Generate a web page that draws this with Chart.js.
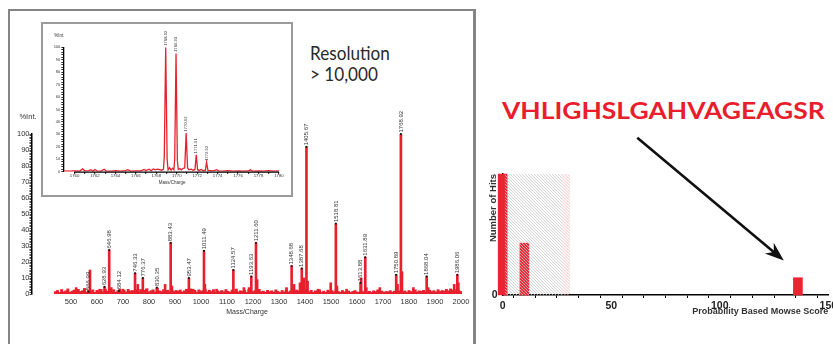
<!DOCTYPE html>
<html lang="en">
<head>
<meta charset="UTF-8">
<title>Peptide mass spectrum and Mowse score</title>
<script src="https://cdn.jsdelivr.net/npm/chart.js@4.4.1/dist/chart.umd.min.js"></script>
<style>
  html, body { margin:0; padding:0; background:#fff; overflow:hidden; width:833px; height:344px; }
  canvas { position:absolute; }
  .panel { position:absolute; left:8px; top:9px; width:463px; height:360px;
           border:2px solid #858585; border-right-width:3px; border-bottom:none; }
  .inset { position:absolute; left:41px; top:22px; width:248px; height:171px;
           border:2px solid #9a9a9a; background:#fff; }
  .inset canvas { left:0; top:0; }
  .note { position:absolute; font-family:Lato, "Open Sans", sans-serif; color:#2a2a2a;
          font-size:19.5px; line-height:20.7px; white-space:nowrap; transform-origin:left top; }
  .seq { position:absolute; left:502px; top:99px; font-family:Lato, sans-serif; font-weight:700;
         font-size:23px; line-height:23px; color:#ea1d2c; white-space:nowrap; transform-origin:left top; }
</style>
</head>
<body>

<div class="panel"></div>
<canvas id="spectrum" width="464" height="244" style="left:10px; top:100px;"></canvas>
<div class="inset"><canvas id="zoomed" width="248" height="171"></canvas></div>
<div class="note" id="res" style="left:310px; top:43px;">Resolution<br>&gt; 10,000</div>
<div class="seq" id="seq">VHLIGHSLGAHVAGEAGSR</div>
<canvas id="mowse" width="370" height="254" style="left:478px; top:90px;"></canvas>

<script>
// ---- full spectrum ----
const peakMass = [566.99, 628.93, 646.98, 684.12, 746.33, 776.37, 830.35, 883.43, 953.47, 1011.49, 1124.57,
                  1193.63, 1211.60, 1348.68, 1387.68, 1405.67, 1518.81, 1613.88, 1631.89, 1750.89, 1768.92,
                  1868.04, 1986.06];
const peakInt  = [1.5, 4.5, 27.5, 2, 13, 10, 4, 32, 10, 27, 15,
                  11, 32, 17.5, 16, 92, 44, 7, 23, 12, 100,
                  11, 12];
const minorMass = [520, 573, 610, 655, 700, 757, 790, 862, 888, 945, 970, 1015, 1060, 1165, 1185, 1216,
                   1329, 1358, 1381, 1395, 1410, 1450, 1499, 1523, 1560, 1616, 1636, 1688, 1756, 1773,
                   1817, 1874, 1974, 1990];
const minorInt  = [4, 15, 3, 4, 3, 6, 3, 6, 5, 3, 3, 6, 3, 4, 4, 9,
                   4, 6, 7, 10, 8, 3, 7, 5, 3, 10, 4, 4, 6, 14,
                   4, 4, 6, 7];
const noiseStart = 440, noiseStep = 8;
const noiseInt = [
  1.5,2.2,1.0,2.8,1.4,2.0,3.2,1.1,1.8,2.5,1.2,2.9,1.6,2.1,3.5,1.3,2.4,1.7,2.6,1.0,
  2.3,1.5,2.8,1.2,3.0,1.8,2.2,1.4,2.7,1.1,2.0,3.1,1.6,2.4,1.3,2.9,1.9,2.2,1.5,2.6,
  1.2,2.8,1.7,2.3,3.3,1.4,2.1,2.6,1.3,3.6,2.0,1.5,2.7,1.8,2.4,1.2,3.0,1.6,2.2,1.9,
  2.5,1.3,2.0,2.9,1.5,3.2,1.7,2.3,1.2,2.6,1.8,2.1,3.0,1.4,2.4,1.6,2.7,1.1,2.0,1.5,
  2.2,1.4,2.8,1.7,1.2,2.5,1.9,3.1,1.3,2.0,1.6,2.4,1.0,2.7,1.8,1.4,2.2,1.2,2.9,1.5,
  1.8,1.1,2.3,1.5,2.0,1.2,2.6,1.6,1.0,2.2,1.4,2.8,1.3,1.9,3.4,1.7,2.5,2.0,3.0,2.4,
  2.6,1.9,1.4,2.3,1.1,2.0,1.6,2.7,1.2,1.8,1.0,2.4,1.5,2.1,1.3,2.8,1.6,1.1,2.2,1.4,
  1.2,1.9,1.0,1.6,2.2,1.3,1.1,1.8,1.4,2.3,1.2,1.7,1.0,2.0,1.5,2.6,1.3,1.8,1.1,1.6,
  1.4,2.1,1.2,1.8,2.5,1.6,2.0,1.3,1.9,1.1,2.2,1.5,1.8,2.6,1.4,2.0,1.7,2.3,1.2,1.9,
  2.4,1.5,2.1,1.3,2.7,1.6,2.2,1.8,2.9,2.0,3.2,2.5,1.9,2.8,2.2,1.6];
const massTicks = [500, 600, 700, 800, 900, 1000, 1100, 1200, 1300, 1400, 1500, 1600, 1700, 1800, 1900, 2000];

// ---- zoom on 1768.92 ----
const insetMass = [1759.0,1759.5,1760.0,1760.5,1760.8,1761.0,1761.4,1761.6,1761.8,1762.0,1762.2,1762.6,1762.9,1763.1,
  1763.6,1764.0,1764.5,1765.0,1765.2,1765.5,1766.0,1766.5,1766.8,1767.0,1767.3,1767.5,1767.7,1767.9,1768.1,1768.3,
  1768.5,1768.7,1768.78,1768.92,1769.06,1769.15,1769.3,1769.45,1769.6,1769.72,1769.8,1769.93,1770.06,1770.15,1770.3,
  1770.45,1770.6,1770.78,1770.92,1771.06,1771.2,1771.4,1771.6,1771.78,1771.91,1772.04,1772.2,1772.4,1772.6,1772.8,
  1772.92,1773.05,1773.3,1773.6,1773.9,1774.1,1774.5,1775.0,1775.5,1776.0,1776.5,1777.0,1777.2,1777.4,1778.0,
  1778.5,1779.0,1779.5,1780.0];
const insetInt = [0.6,0.4,0.7,0.5,2.2,0.6,0.8,1.6,0.5,1.8,0.6,0.5,2.0,0.6,
  0.5,0.8,0.4,0.9,1.6,0.5,0.7,0.6,1.8,0.9,2.0,0.8,2.2,1.5,2.0,1.6,
  1.2,2.0,12,100,10,1.5,3.2,1.2,2.8,1.5,10,95,9,1.8,2.5,
  1.5,2.6,3,31,3,1.5,2.0,1.2,1.8,13.5,1.6,1.0,1.8,0.8,1.2,
  7.5,1.0,0.8,0.6,1.6,0.7,0.5,0.8,0.5,0.7,0.5,0.6,1.5,0.5,0.7,
  0.5,0.8,0.5,0.7];
const insetPeakMass  = [1768.92, 1769.93, 1770.92, 1771.91, 1772.92];
const insetPeakInt   = [100, 95, 31, 13.5, 7.5];
const insetPeakLabel = ['1768.92', '1769.93', '1770.92', '1771.91', '1772.92'];
const insetTicks = [1760, 1762, 1764, 1766, 1768, 1770, 1772, 1774, 1776, 1778, 1780];

// ---- Mowse score histogram ----
const mowseScore = [0, 10, 136];
const mowseHits  = [7, 3, 1];
const scoreTicks = [0, 50, 100, 150];
const randomZone = [1, 27.5];
const thresholdZone = [27.5, 31];
const arrowFrom = [62, 9.1];
const arrowTo   = [129.5, 2.0];

const RED = '#e8202e';
const SANS = '"Liberation Sans", Arial, sans-serif';

// rotated labels above the peak tips
function peakLabels(mass, value, text, size, mark) {
  return {
    id: 'peakLabels',
    afterDatasetsDraw(chart) {
      const {ctx, scales: {x, y}} = chart;
      ctx.save();
      ctx.font = size + 'px ' + SANS;
      mass.forEach((m, i) => {
        const px = x.getPixelForValue(m), py = y.getPixelForValue(value[i]);
        ctx.fillStyle = '#111';
        ctx.fillRect(px - mark / 2, py - mark / 2, mark, mark);
        ctx.save();
        ctx.translate(px, py - 1.5);
        ctx.rotate(-Math.PI / 2);
        ctx.textAlign = 'left';
        ctx.textBaseline = 'middle';
        ctx.fillStyle = '#333';
        ctx.fillText(text[i], 0, 0);
        ctx.restore();
      });
      ctx.restore();
    }
  };
}

// "%Int." above the y axis
function axisNote(text, dx, dy, size) {
  return {
    id: 'axisNote',
    afterDraw(chart) {
      const {ctx, chartArea} = chart;
      ctx.save();
      ctx.font = size + 'px ' + SANS;
      ctx.fillStyle = '#333';
      ctx.textAlign = 'center';
      ctx.textBaseline = 'middle';
      ctx.fillText(text, chartArea.left + dx, chartArea.top + dy);
      ctx.restore();
    }
  };
}

const bars = (data, w) => ({
  type: 'bar', data: data, backgroundColor: RED, borderWidth: 0,
  barThickness: w, grouped: false
});

new Chart(document.getElementById('spectrum'), {
  type: 'bar',
  data: {
    datasets: [
      bars(noiseInt.map((v, i) => ({x: noiseStart + i * noiseStep, y: v})), 2.3),
      bars(minorMass.map((m, i) => ({x: m, y: minorInt[i]})), 2),
      bars(peakMass.map((m, i) => ({x: m, y: peakInt[i]})), 2)
    ]
  },
  options: {
    responsive: false, animation: false, devicePixelRatio: 1,
    layout: {padding: {top: 34, right: 12, left: 0, bottom: 0}},
    plugins: {legend: {display: false}, tooltip: {enabled: false}},
    scales: {
      x: {
        type: 'linear', min: 350, max: 2004, offset: false,
        afterBuildTicks: s => { s.ticks = massTicks.map(v => ({value: v})); },
        afterFit: s => { s.height = 50; },
        ticks: {font: {size: 7.5, family: SANS}, color: '#333', padding: 3, maxRotation: 0,
                callback: v => String(v)},
        grid: {display: false, drawTicks: false}, border: {display: false},
        title: {display: true, text: 'Mass/Charge', color: '#333', font: {size: 7, family: SANS},
                padding: {top: 0, bottom: 28}}
      },
      y: {
        min: 0, max: 100,
        afterFit: s => { s.width = 22; },
        ticks: {stepSize: 1, autoSkip: false, padding: 0, color: '#333', font: {size: 7.5, family: SANS},
                callback: v => v % 10 === 0 ? String(v) : ''},
        grid: {drawOnChartArea: false, tickLength: 2.5, color: '#000', lineWidth: 0.7},
        border: {color: '#000', width: 1.5}
      }
    }
  },
  plugins: [peakLabels(peakMass, peakInt, peakMass.map(m => m.toFixed(2)), 6, 1.8), axisNote('%Int.', -4, -17, 7.5)]
});

const insetAxisLine = {
  id: 'insetAxisLine',
  afterDraw(chart) {
    const {ctx, scales: {x, y}} = chart;
    ctx.save();
    ctx.strokeStyle = '#000';
    ctx.lineWidth = 1.3;
    ctx.beginPath();
    ctx.moveTo(x.getPixelForValue(insetTicks[0]), y.getPixelForValue(0) + 0.5);
    ctx.lineTo(x.getPixelForValue(insetTicks[insetTicks.length - 1]), y.getPixelForValue(0) + 0.5);
    ctx.stroke();
    ctx.restore();
  }
};

// tick marks at every unit between the labelled ticks
function insetTickMarks(scale) {
  const marks = [];
  insetTicks.forEach((v, i) => {
    marks.push({value: v});
    if (i < insetTicks.length - 1) marks.push({value: v + 1});
  });
  scale.ticks = marks;
}

new Chart(document.getElementById('zoomed'), {
  type: 'line',
  data: {
    datasets: [{
      data: insetMass.map((m, i) => ({x: m, y: insetInt[i]})),
      borderColor: RED, borderWidth: 1.3, pointRadius: 0, tension: 0, fill: false
    }]
  },
  options: {
    responsive: false, animation: false, devicePixelRatio: 1,
    layout: {padding: {top: 23.3, right: 10, left: 0, bottom: 0}},
    plugins: {legend: {display: false}, tooltip: {enabled: false}},
    scales: {
      x: {
        type: 'linear', min: 1758.9, max: 1780.2, offset: false,
        afterBuildTicks: insetTickMarks,
        afterFit: s => { s.height = 23.3; },
        ticks: {autoSkip: false, maxRotation: 0, padding: 0, color: '#333',
                font: {size: 4.3, family: SANS}, callback: v => insetTicks.includes(v) ? String(v) : ''},
        grid: {drawOnChartArea: false, tickLength: 2, color: '#000', lineWidth: 1.2},
        border: {display: false},
        title: {display: true, text: 'Mass/Charge', color: '#333', font: {size: 4.5, family: SANS},
                padding: {top: 0, bottom: 9.6}}
      },
      y: {
        min: 0, max: 100,
        afterFit: s => { s.width = 20.3; },
        ticks: {stepSize: 2, autoSkip: false, padding: 1, color: '#333', font: {size: 4, family: SANS},
                callback: v => v % 10 === 0 ? String(v) : ''},
        grid: {drawOnChartArea: false, tickLength: 2, color: '#000', lineWidth: 0.8},
        border: {color: '#000', width: 1.3}
      }
    }
  },
  plugins: [insetAxisLine, peakLabels(insetPeakMass, insetPeakInt, insetPeakLabel, 4.2, 0),
            axisNote('%Int.', -4, -11.3, 4.5)]
});

function hatch(ctx, x0, x1, top, bottom, color) {
  ctx.save();
  ctx.beginPath();
  ctx.rect(x0, top, x1 - x0, bottom - top);
  ctx.clip();
  ctx.strokeStyle = color;
  ctx.lineWidth = 0.9;
  const h = bottom - top;
  ctx.beginPath();
  for (let k = -h; k < x1 - x0; k += 3) {
    ctx.moveTo(x0 + k, top);
    ctx.lineTo(x0 + k + h, bottom);
  }
  ctx.stroke();
  ctx.restore();
}

const mowseDecor = {
  id: 'mowseDecor',
  afterDatasetsDraw(chart) {
    const {ctx, chartArea: {top, bottom}, scales: {x}} = chart;
    hatch(ctx, x.getPixelForValue(randomZone[0]), x.getPixelForValue(randomZone[1]), top, bottom, '#c9c9c9');
    hatch(ctx, x.getPixelForValue(thresholdZone[0]), x.getPixelForValue(thresholdZone[1]), top, bottom, '#f3b9bd');
  },
  afterDraw(chart) {
    const {ctx, scales: {x, y}} = chart;
    const x0 = x.getPixelForValue(arrowFrom[0]), y0 = y.getPixelForValue(arrowFrom[1]);
    const x1 = x.getPixelForValue(arrowTo[0]), y1 = y.getPixelForValue(arrowTo[1]);
    const len = Math.hypot(x1 - x0, y1 - y0), ux = (x1 - x0) / len, uy = (y1 - y0) / len;
    const px = -uy, py = ux;
    ctx.save();
    ctx.strokeStyle = '#111';
    ctx.fillStyle = '#111';
    ctx.lineWidth = 2.6;
    ctx.beginPath();
    ctx.moveTo(x0, y0);
    ctx.lineTo(x1 - ux * 12, y1 - uy * 12);
    ctx.stroke();
    ctx.beginPath();
    ctx.moveTo(x1, y1);
    ctx.lineTo(x1 - ux * 19 + px * 7, y1 - uy * 19 + py * 7);
    ctx.lineTo(x1 - ux * 13, y1 - uy * 13);
    ctx.lineTo(x1 - ux * 19 - px * 7, y1 - uy * 19 - py * 7);
    ctx.closePath();
    ctx.fill();
    ctx.restore();
  }
};

new Chart(document.getElementById('mowse'), {
  type: 'bar',
  data: {
    datasets: [{
      data: mowseScore.map((s, i) => ({x: s, y: mowseHits[i]})),
      backgroundColor: '#ec2330', borderWidth: 0, barThickness: 9, grouped: false, clip: false
    }]
  },
  options: {
    responsive: false, animation: false, devicePixelRatio: 1,
    layout: {padding: {top: 84, right: 19.7, left: 0, bottom: 0}},
    plugins: {legend: {display: false}, tooltip: {enabled: false}},
    scales: {
      x: {
        type: 'linear', min: 0, max: 150, offset: false,
        afterFit: s => { s.height = 49; },
        ticks: {stepSize: 10, autoSkip: false, maxRotation: 0, padding: 2, color: '#222',
                font: {size: 10.5, weight: 'bold', family: SANS},
                callback: v => scoreTicks.includes(v) ? String(v) : ''},
        grid: {drawOnChartArea: false, tickLength: 3, color: '#000', lineWidth: 1},
        border: {color: '#000', width: 1.5},
        title: {display: true, text: 'Probability Based Mowse Score', align: 'end', color: '#333',
                font: {size: 9, weight: 'bold', family: SANS}, padding: {top: 0, bottom: 27}}
      },
      y: {
        min: 0, max: 7,
        afterFit: s => { s.width = 24.7; },
        ticks: {stepSize: 7, padding: 5, color: '#222', font: {size: 10.5, weight: 'bold', family: SANS},
                callback: v => v === 0 ? '0' : ''},
        grid: {display: false, drawTicks: false},
        border: {color: '#000', width: 1.5},
        title: {display: true, text: 'Number of Hits', align: 'end', color: '#333',
                font: {size: 9.5, weight: 'bold', family: SANS}, padding: {top: 10, bottom: 0}}
      }
    }
  },
  plugins: [mowseDecor]
});

// stretch the Gill-Sans-like captions to the reference widths
function fitWidth(el, w) {
  el.style.display = 'inline-block';
  el.style.transform = 'scaleX(' + (w / el.offsetWidth) + ')';
}
fitWidth(document.getElementById('seq'), 323);
fitWidth(document.getElementById('res'), 80);
</script>
</body>
</html>
